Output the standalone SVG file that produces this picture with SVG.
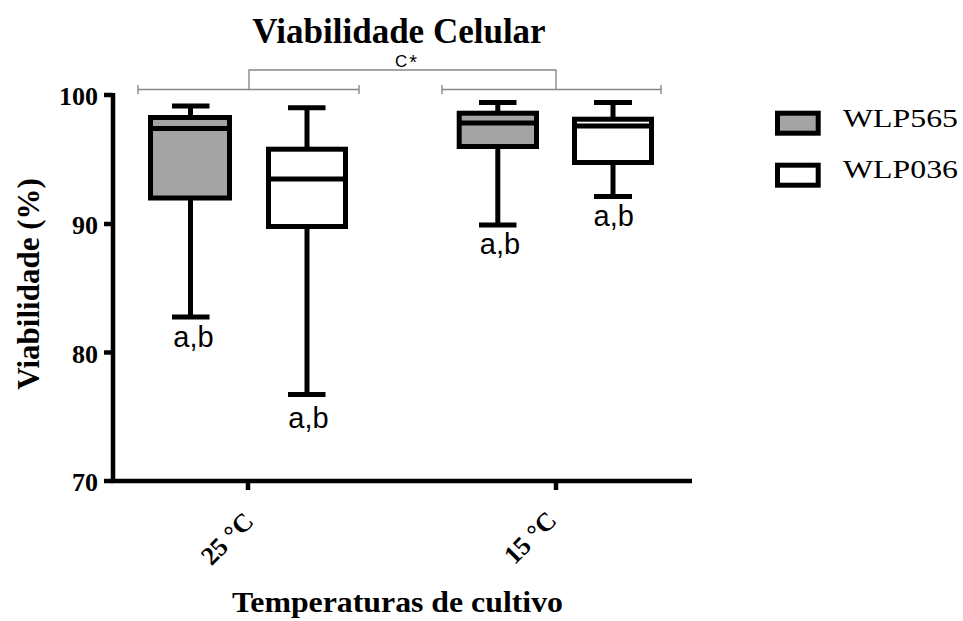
<svg xmlns="http://www.w3.org/2000/svg" width="963" height="621" viewBox="0 0 963 621">
<style>
.ser{font-family:"Liberation Serif","Times New Roman",serif;fill:#000}
.b{font-weight:bold}
.san{font-family:"Liberation Sans",Arial,sans-serif;fill:#000}
.ax{stroke:#000;stroke-width:4.5;fill:none}
.bx{stroke:#000;stroke-width:5}
.wh{stroke:#000;stroke-width:5;fill:none}
.g{fill:#a4a4a4}
.w{fill:#fff}
.br{stroke:#888;stroke-width:1.4;fill:none}
</style>
<rect width="963" height="621" fill="#fff"/>
<text id="title" class="ser b" x="399" y="43" font-size="35" text-anchor="middle">Viabilidade Celular</text>

<g id="axes">
<line class="ax" x1="113" y1="93" x2="113" y2="483"/>
<line class="ax" x1="111" y1="481" x2="692" y2="481"/>
<line class="ax" x1="104" y1="95" x2="113" y2="95"/>
<line class="ax" x1="104" y1="224" x2="113" y2="224"/>
<line class="ax" x1="104" y1="352.5" x2="113" y2="352.5"/>
<line class="ax" x1="104" y1="481" x2="113" y2="481"/>
<line class="ax" x1="248" y1="481" x2="248" y2="490"/>
<line class="ax" x1="556" y1="481" x2="556" y2="490"/>
<g class="ser b" font-size="26" text-anchor="end">
<text x="98" y="105">100</text>
<text x="98" y="234">90</text>
<text x="98" y="362.5">80</text>
<text x="98" y="491">70</text>
</g>
<text class="ser b" font-size="26" text-anchor="end" transform="translate(255,523) rotate(-45)">25 °C</text>
<text class="ser b" font-size="26" text-anchor="end" transform="translate(558,522) rotate(-45)">15 °C</text>
<text class="ser b" font-size="31" text-anchor="middle" transform="translate(39,284) rotate(-90)">Viabilidade (%)</text>
<text class="ser b" font-size="30" text-anchor="middle" x="397.5" y="612" textLength="331" lengthAdjust="spacingAndGlyphs">Temperaturas de cultivo</text>
</g>

<g id="box-25-WLP565">
<line class="wh" x1="190.5" y1="106" x2="190.5" y2="317"/>
<line class="wh" x1="172" y1="106" x2="209.5" y2="106"/>
<line class="wh" x1="172" y1="317" x2="209.5" y2="317"/>
<rect class="bx g" x="150.5" y="117.5" width="79" height="80.5"/>
<line class="wh" x1="150.5" y1="128.5" x2="229.5" y2="128.5"/>
<text class="san" font-size="29" x="193.5" y="346.5" text-anchor="middle">a,b</text>
</g>

<g id="box-25-WLP036">
<line class="wh" x1="307" y1="107.8" x2="307" y2="394.5"/>
<line class="wh" x1="288" y1="107.8" x2="325.5" y2="107.8"/>
<line class="wh" x1="288" y1="394.5" x2="325.5" y2="394.5"/>
<rect class="bx w" x="268.5" y="149.2" width="77" height="77.3"/>
<line class="wh" x1="268.5" y1="179" x2="345.5" y2="179"/>
<text class="san" font-size="29" x="308.5" y="427.5" text-anchor="middle">a,b</text>
</g>

<g id="box-15-WLP565">
<line class="wh" x1="497.8" y1="102.5" x2="497.8" y2="225"/>
<line class="wh" x1="479" y1="102.5" x2="516.5" y2="102.5"/>
<line class="wh" x1="479" y1="225" x2="516.5" y2="225"/>
<rect class="bx g" x="459.2" y="113.2" width="77.3" height="33.3"/>
<line class="wh" x1="459.2" y1="123" x2="536.5" y2="123"/>
<text class="san" font-size="29" x="500" y="254" text-anchor="middle">a,b</text>
</g>

<g id="box-15-WLP036">
<line class="wh" x1="613" y1="102.5" x2="613" y2="196.5"/>
<line class="wh" x1="594" y1="102.5" x2="632" y2="102.5"/>
<line class="wh" x1="594" y1="196.5" x2="632" y2="196.5"/>
<rect class="bx w" x="574.5" y="119.2" width="77" height="43.3"/>
<line class="wh" x1="574.5" y1="126" x2="651.5" y2="126"/>
<text class="san" font-size="29" x="613.7" y="225.5" text-anchor="middle">a,b</text>
</g>

<g id="connectors">
<path class="br" d="M138,89.5 H359 M138,85 V94 M359,85 V94"/>
<path class="br" d="M442,89.5 H661 M442,85 V94 M661,85 V94"/>
<path class="br" d="M249,89.5 V70 H556 V89.5"/>
<text class="san" font-size="17" x="395" y="67" letter-spacing="2">C<tspan font-size="20" dy="2">*</tspan></text>
</g>

<g id="legend">
<rect class="bx g" x="777.5" y="113.2" width="40.7" height="20"/>
<rect class="bx w" x="777.5" y="165.2" width="40.7" height="20"/>
<text class="ser" font-size="25" x="843" y="127" textLength="115" lengthAdjust="spacingAndGlyphs">WLP565</text>
<text class="ser" font-size="25" x="843" y="178" textLength="115" lengthAdjust="spacingAndGlyphs">WLP036</text>
</g>
</svg>
